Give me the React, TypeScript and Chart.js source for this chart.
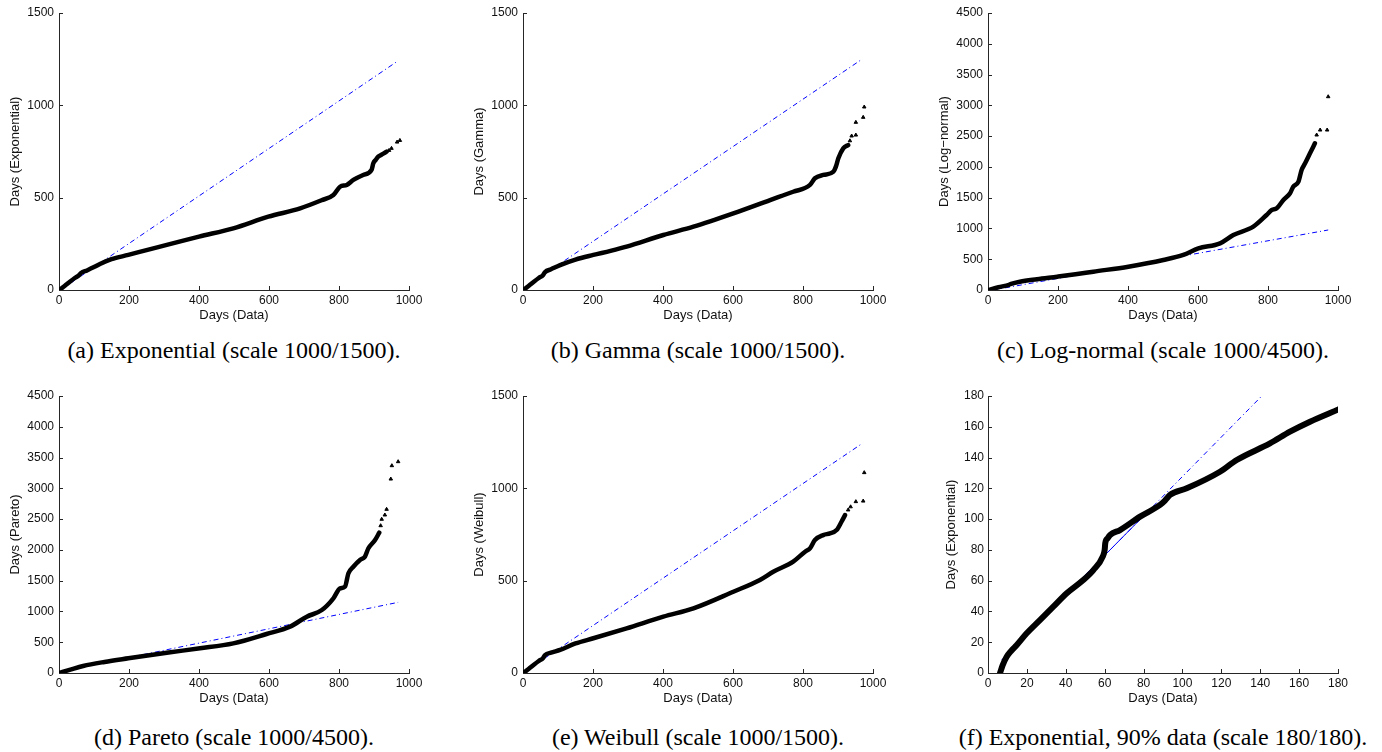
import React, { useEffect, useRef } from 'react';
import { Chart, registerables } from 'chart.js';

Chart.register(...registerables);

// ---------------- data ----------------
// (a) Exponential
const aDenseX = [0, 10, 20, 31, 45, 57, 63, 80, 100, 117, 150, 198, 250, 308, 400, 498, 598, 689, 750, 784, 803, 822, 841, 869, 893, 898, 905, 912, 920, 928, 936];
const aDenseY = [0, 13, 28, 45, 65, 80, 92, 106, 124, 141, 167, 190, 216, 244, 289, 334, 397, 442, 486, 514, 559, 569, 596, 623, 650, 686, 705, 722, 731, 740, 749];
const aTailX = [943, 950, 966, 974];
const aTailY = [756, 767, 801, 810];
const aRefX = [5, 968];
const aRefY = [1, 1240];

// (b) Gamma
const bDenseX = [0, 10, 20, 31, 45, 57, 63, 80, 106, 150, 201, 250, 296, 401, 487, 601, 706, 772, 820, 834, 858, 887, 894, 901, 915, 929];
const bDenseY = [0, 13, 28, 45, 65, 80, 97, 112, 135, 165, 190, 212, 235, 298, 343, 415, 487, 532, 569, 605, 623, 641, 668, 713, 767, 785];
const bTailX = [934, 939, 951, 951, 972, 975];
const bTailY = [808, 834, 839, 908, 935, 991];
const bRefX = [5, 968];
const bRefY = [13, 1249];

// (c) Log-normal
const cDenseX = [0, 30, 60, 66, 91, 140, 198, 250, 301, 401, 501, 558, 601, 663, 701, 758, 796, 811, 825, 844, 863, 872, 887, 896, 906, 920, 934];
const cDenseY = [0, 45, 85, 100, 135, 175, 216, 255, 298, 379, 487, 569, 677, 758, 893, 1029, 1218, 1300, 1327, 1462, 1571, 1679, 1760, 1949, 2058, 2220, 2383];
const cTailX = [939, 949, 969, 972];
const cTailY = [2518, 2599, 2599, 3140];
const cRefX = [15, 972];
const cRefY = [0, 975];

// (d) Pareto
const dDenseX = [0, 30, 69, 130, 198, 308, 403, 498, 593, 660, 708, 751, 784, 803, 817, 827, 841, 860, 874, 884, 903, 915];
const dDenseY = [0, 50, 114, 180, 239, 330, 401, 482, 634, 753, 915, 1023, 1213, 1376, 1402, 1620, 1727, 1836, 1890, 2026, 2160, 2279];
const dTailX = [919, 922, 931, 936, 948, 951, 969];
const dTailY = [2393, 2497, 2567, 2659, 3151, 3368, 3433];
const dRefX = [5, 969];
const dRefY = [25, 1148];

// (e) Weibull
const eDenseX = [0, 10, 20, 31, 45, 57, 63, 80, 106, 150, 201, 296, 401, 487, 601, 677, 715, 772, 806, 820, 834, 858, 877, 896, 910, 920];
const eDenseY = [0, 13, 28, 45, 65, 80, 97, 110, 125, 160, 188, 242, 305, 350, 440, 504, 548, 603, 657, 675, 720, 747, 756, 774, 819, 855];
const eTailX = [929, 936, 951, 972, 975];
const eTailY = [883, 900, 928, 931, 1085];
const eRefX = [5, 970];
const eRefY = [7, 1244];

// (f) Exponential, 90% data
const fDenseX = [6.2, 7.5, 9.6, 12, 14.8, 19.9, 26.7, 33.6, 40.5, 49, 54.2, 59, 60, 60.3, 61.5, 62.8, 67.9, 78.2, 88.5, 91, 93.6, 102.2, 119.3, 127.9, 145, 155.3, 165.6, 180.2];
const fDenseY = [0, 5, 10.6, 14.5, 18.2, 25.8, 34.4, 43.1, 51.8, 60.4, 66.9, 75.6, 80, 84.3, 87.5, 89.7, 92.9, 101.6, 109.2, 112, 115.7, 120, 130.8, 138.4, 149.2, 156.8, 163.3, 171.3];
const fTailX: number[] = [];
const fTailY: number[] = [];
const fRefX = [7, 140.8];
const fRefY = [8.4, 180];
const fRefSolidX = [20, 80];
const fRefSolidY = [25.1, 102.1];

// axis tick setups
const xMaxes = [1000, 1000, 1000, 1000, 1000, 180];
const xSteps = [200, 200, 200, 200, 200, 20];
const yMaxes = [1500, 1500, 4500, 4500, 1500, 180];
const ySteps = [500, 500, 500, 500, 500, 20];
const yTitles = ['Days (Exponential)', 'Days (Gamma)', 'Days (Log\u2212normal)', 'Days (Pareto)', 'Days (Weibull)', 'Days (Exponential)'];
const xTitle = 'Days (Data)';
const captions = [
  '(a) Exponential (scale 1000/1500).',
  '(b) Gamma (scale 1000/1500).',
  '(c) Log-normal (scale 1000/4500).',
  '(d) Pareto (scale 1000/4500).',
  '(e) Weibull (scale 1000/1500).',
  '(f) Exponential, 90% data (scale 180/180).',
];

// ---------------- styling / layout ----------------
const AXIS = '#262626';
const TEXT = '#111111';
const SANS = '"Liberation Sans", Arial, Helvetica, sans-serif';
const SERIF = '"Liberation Serif", "Times New Roman", serif';

const COL_START = [0, 460, 920];
const CANVAS_W = [460, 460, 462];
const PLOT_L = [59, 523, 988];
const PLOT_R = [409, 873, 1338];
const ROW_START = [0, 383];
const CANVAS_H = 330;
const PLOT_T_OFF = 13;
const PLOT_B_OFF = 290;
const CAPTION_BASE = [358, 745];

const pts = (xs: number[], ys: number[]) => xs.map((x, i) => ({ x, y: ys[i] }));

const inwardTicks = {
  id: 'inwardTicks',
  beforeDatasetsDraw(chart: any) {
    const { ctx, chartArea: ca, scales } = chart;
    ctx.save();
    ctx.strokeStyle = AXIS;
    ctx.lineWidth = 1;
    ctx.beginPath();
    for (const t of scales.x.ticks) {
      const px = Math.round(scales.x.getPixelForValue(t.value)) + 0.5;
      ctx.moveTo(px, ca.bottom);
      ctx.lineTo(px, ca.bottom - 4);
    }
    for (const t of scales.y.ticks) {
      const py = Math.round(scales.y.getPixelForValue(t.value)) + 0.5;
      ctx.moveTo(ca.left, py);
      ctx.lineTo(ca.left + 4, py);
    }
    ctx.stroke();
    ctx.restore();
  },
};

interface PanelDef {
  idx: number;
  dense: { x: number; y: number }[];
  tail: { x: number; y: number }[];
  ref: { x: number; y: number }[];
  refSolid?: { x: number; y: number }[];
  denseWidth: number;
}

const panels: PanelDef[] = [
  { idx: 0, dense: pts(aDenseX, aDenseY), tail: pts(aTailX, aTailY), ref: pts(aRefX, aRefY), denseWidth: 4.5 },
  { idx: 1, dense: pts(bDenseX, bDenseY), tail: pts(bTailX, bTailY), ref: pts(bRefX, bRefY), denseWidth: 4.5 },
  { idx: 2, dense: pts(cDenseX, cDenseY), tail: pts(cTailX, cTailY), ref: pts(cRefX, cRefY), denseWidth: 4.5 },
  { idx: 3, dense: pts(dDenseX, dDenseY), tail: pts(dTailX, dTailY), ref: pts(dRefX, dRefY), denseWidth: 4.5 },
  { idx: 4, dense: pts(eDenseX, eDenseY), tail: pts(eTailX, eTailY), ref: pts(eRefX, eRefY), denseWidth: 4.5 },
  { idx: 5, dense: pts(fDenseX, fDenseY), tail: pts(fTailX, fTailY), ref: pts(fRefX, fRefY), refSolid: pts(fRefSolidX, fRefSolidY), denseWidth: 6 },
];

function Panel({ p }: { p: PanelDef }) {
  const ref = useRef<HTMLCanvasElement>(null);
  const col = p.idx % 3;
  const row = Math.floor(p.idx / 3);
  const left = COL_START[col];
  const top = ROW_START[row];
  const w = CANVAS_W[col];
  const h = CANVAS_H;

  useEffect(() => {
    if (!ref.current) return;
    const yAxisWidth = PLOT_L[col] - left;
    const padRight = w - (PLOT_R[col] - left);
    const is3digit = p.idx === 5;
    const titleCenter = PLOT_L[col] - (is3digit ? 37 : 44) - left;
    const yTitlePad = titleCenter - 7.8;

    const datasets: any[] = [
      {
        data: p.dense,
        showLine: true,
        borderColor: '#000000',
        backgroundColor: '#000000',
        borderWidth: p.denseWidth,
        pointRadius: 0,
        cubicInterpolationMode: 'monotone',
        borderJoinStyle: 'round',
        borderCapStyle: 'round',
      },
      {
        data: p.tail,
        showLine: false,
        pointStyle: 'triangle',
        pointRadius: 2,
        backgroundColor: '#000000',
        borderColor: '#000000',
        borderWidth: 1,
      },
    ];
    if (p.refSolid) {
      datasets.push({
        data: p.refSolid,
        showLine: true,
        borderColor: '#0000ff',
        borderWidth: 1,
        pointRadius: 0,
      });
    }
    datasets.push({
      data: p.ref,
      showLine: true,
      borderColor: '#0000ff',
      borderWidth: 1,
      borderDash: [5, 3, 1, 3],
      pointRadius: 0,
    });

    const chart = new Chart(ref.current, {
      type: 'scatter',
      data: { datasets },
      options: {
        responsive: false,
        animation: false,
        devicePixelRatio: 1,
        events: [],
        layout: { padding: { left: 0, top: PLOT_T_OFF, right: padRight, bottom: 0 } },
        plugins: { legend: { display: false }, tooltip: { enabled: false } },
        scales: {
          x: {
            type: 'linear',
            position: 'bottom',
            min: 0,
            max: xMaxes[p.idx],
            grid: { display: false, drawTicks: false },
            border: { display: true, color: AXIS, width: 1 },
            ticks: {
              stepSize: xSteps[p.idx],
              autoSkip: false,
              maxRotation: 0,
              minRotation: 0,
              padding: 3,
              color: TEXT,
              font: { family: SANS, size: 12 },
              callback: (v: any) => String(v),
            },
            title: {
              display: true,
              text: xTitle,
              color: TEXT,
              font: { family: SANS, size: 13 },
              padding: { top: 0, bottom: 7.2 },
            },
            afterFit: (s: any) => {
              s.height = h - PLOT_B_OFF;
              s.paddingLeft = 0;
              s.paddingRight = 0;
            },
          },
          y: {
            type: 'linear',
            position: 'left',
            min: 0,
            max: yMaxes[p.idx],
            grid: { display: false, drawTicks: false },
            border: { display: true, color: AXIS, width: 1 },
            ticks: {
              stepSize: ySteps[p.idx],
              autoSkip: false,
              padding: is3digit ? 4 : 5,
              color: TEXT,
              font: { family: SANS, size: 12 },
              callback: (v: any) => String(v),
            },
            title: {
              display: true,
              text: yTitles[p.idx],
              color: TEXT,
              font: { family: SANS, size: 13 },
              padding: { top: yTitlePad, bottom: 0 },
            },
            afterFit: (s: any) => {
              s.width = yAxisWidth;
              s.paddingTop = 0;
              s.paddingBottom = 0;
            },
          },
        },
      } as any,
      plugins: [inwardTicks],
    });
    return () => chart.destroy();
  }, []);

  return (
    <canvas
      ref={ref}
      width={w}
      height={h}
      style={{ position: 'absolute', left, top, width: w, height: h }}
    />
  );
}

function Caption({ idx }: { idx: number }) {
  const col = idx % 3;
  const row = Math.floor(idx / 3);
  const center = (PLOT_L[col] + PLOT_R[col]) / 2;
  return (
    <div
      style={{
        position: 'absolute',
        left: center - 300,
        width: 600,
        top: CAPTION_BASE[row] - 20,
        height: 24,
        lineHeight: '24px',
        fontSize: 24,
        fontFamily: SERIF,
        color: '#000',
        textAlign: 'center',
        whiteSpace: 'nowrap',
      }}
    >
      {captions[idx]}
    </div>
  );
}

export default function App() {
  return (
    <div
      style={{
        position: 'absolute',
        left: 0,
        top: 0,
        width: 1382,
        height: 752,
        background: '#ffffff',
        overflow: 'hidden',
      }}
    >
      {panels.map((p) => (
        <Panel key={p.idx} p={p} />
      ))}
      {panels.map((p) => (
        <Caption key={'c' + p.idx} idx={p.idx} />
      ))}
    </div>
  );
}
